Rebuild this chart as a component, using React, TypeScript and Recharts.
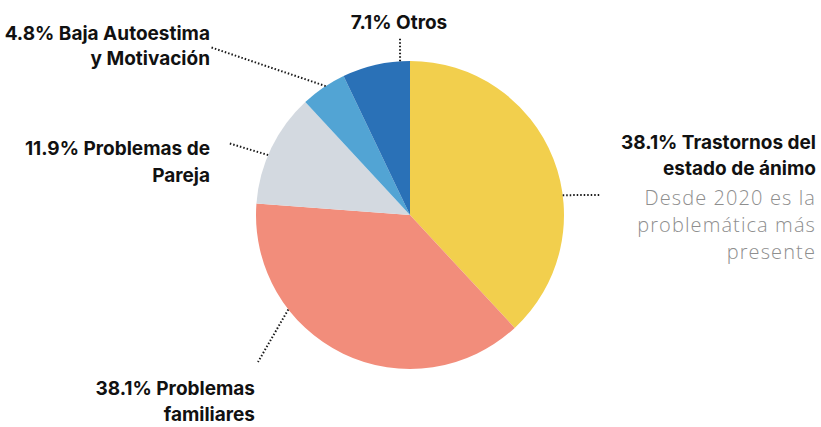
import { Cell, Pie, PieChart } from 'recharts';

const categories = [
  'Trastornos del estado de ánimo',
  'Problemas familiares',
  'Problemas de Pareja',
  'Baja Autoestima y Motivación',
  'Otros',
];
const shares = [38.1, 38.1, 11.9, 4.8, 7.1];
const labelLines = [
  ['38.1% Trastornos del', 'estado de ánimo'],
  ['38.1% Problemas', 'familiares'],
  ['11.9% Problemas de', 'Pareja'],
  ['4.8% Baja Autoestima', 'y Motivación'],
  ['7.1% Otros'],
];
const noteLines = ['Desde 2020 es la', 'problemática más', 'presente'];

const colors = ['#f2cf4d', '#f28d7b', '#d3d9e0', '#52a4d4', '#2a71b7'];

// label placement: angle where the dotted line meets the pie, outer end of the line, text block
interface LabelLayout {
  edgeAngle: number;
  end: [number, number];
  x: number;
  y: number;
  anchor: 'start' | 'middle' | 'end';
  lineHeight: number;
}

const layout: LabelLayout[] = [
  { edgeAngle: 7.4, end: [600, 195], x: 816, y: 142, anchor: 'end', lineHeight: 26 },
  { edgeAngle: 217.8, end: [258, 362], x: 255, y: 388, anchor: 'end', lineHeight: 26 },
  { edgeAngle: 157.1, end: [228, 143], x: 210, y: 148, anchor: 'end', lineHeight: 27 },
  { edgeAngle: 123.2, end: [210, 47], x: 210, y: 33, anchor: 'end', lineHeight: 25 },
  { edgeAngle: 93.7, end: [400, 37], x: 399, y: 22, anchor: 'middle', lineHeight: 25 },
];

const data = categories.map((name, i) => ({ name, value: shares[i] }));

const RAD = Math.PI / 180;

function renderLabel(props: any) {
  const { cx, cy, outerRadius, index } = props;
  const l = layout[index];
  const sx = cx + outerRadius * Math.cos(-l.edgeAngle * RAD);
  const sy = cy + outerRadius * Math.sin(-l.edgeAngle * RAD);
  const lines = labelLines[index];
  const notes = index === 0 ? noteLines : [];
  return (
    <g key={`lbl-${index}`}>
      <line
        x1={sx}
        y1={sy}
        x2={l.end[0]}
        y2={l.end[1]}
        stroke="#1a1a1a"
        strokeWidth={2}
        strokeDasharray="1.5 2"
      />
      {lines.map((t, i) => (
        <text
          key={t}
          x={l.x}
          y={l.y + i * l.lineHeight}
          textAnchor={l.anchor}
          dominantBaseline="central"
          fontFamily="Inter, sans-serif"
          fontWeight={700}
          fontSize={19}
          fill="#111"
        >
          {t}
        </text>
      ))}
      {notes.map((t, i) => (
        <text
          key={t}
          x={l.x}
          y={l.y + (lines.length + i) * 27 + 1}
          textAnchor={l.anchor}
          dominantBaseline="central"
          fontFamily="'Open Sans', sans-serif"
          fontWeight={300}
          fontSize={20}
          letterSpacing={1.1}
          fill="#8e8e8e"
        >
          {t}
        </text>
      ))}
    </g>
  );
}

export default function App() {
  return (
    <div style={{ width: 821, height: 427, background: '#fff' }}>
      <style>{'body{margin:0}'}</style>
      <PieChart width={821} height={427} margin={{ top: 0, right: 0, bottom: 0, left: 0 }}>
        <Pie
          data={data}
          dataKey="value"
          nameKey="name"
          cx={410}
          cy={215}
          outerRadius={154}
          startAngle={90}
          endAngle={-270}
          stroke="none"
          label={renderLabel}
          labelLine={false}
          isAnimationActive={false}
        >
          {data.map((d, i) => (
            <Cell key={d.name} fill={colors[i]} />
          ))}
        </Pie>
      </PieChart>
    </div>
  );
}
